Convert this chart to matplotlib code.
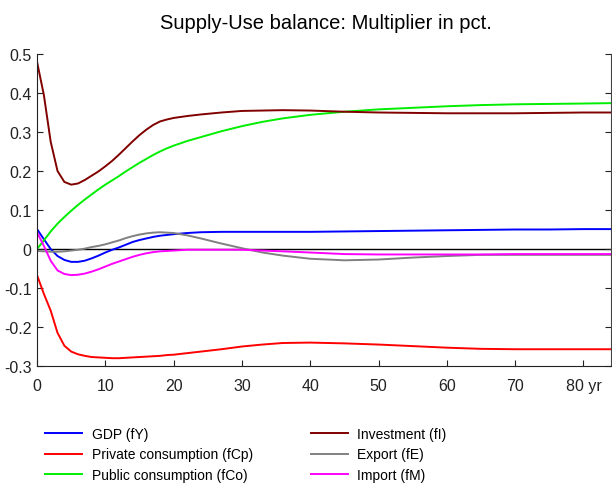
import matplotlib
matplotlib.use("Agg")
import matplotlib.pyplot as plt

plt.rcParams['font.family'] = ['Liberation Sans', 'DejaVu Sans']

# years after shock
years = [0, 1, 2, 3, 4, 5, 6, 7, 8, 9, 10, 11, 12, 13, 14, 15, 16, 17, 18, 19, 20,
         22, 24, 27, 30, 33, 36, 40, 45, 50, 55, 60, 65, 70, 75, 80, 84]

gdp = [0.051, 0.025, 0.0, -0.018, -0.028, -0.033, -0.033, -0.030, -0.024, -0.017,
       -0.009, -0.002, 0.004, 0.011, 0.018, 0.023, 0.027, 0.031, 0.034, 0.036, 0.038,
       0.041, 0.043, 0.044, 0.044, 0.044, 0.044, 0.044, 0.045, 0.046, 0.047, 0.048,
       0.049, 0.050, 0.050, 0.051, 0.051]
priv_cons = [-0.067, -0.115, -0.158, -0.215, -0.248, -0.263, -0.270, -0.274, -0.277,
             -0.278, -0.279, -0.280, -0.280, -0.279, -0.278, -0.277, -0.276, -0.275,
             -0.274, -0.272, -0.271, -0.267, -0.263, -0.257, -0.250, -0.245, -0.241,
             -0.240, -0.242, -0.245, -0.249, -0.253, -0.256, -0.257, -0.257, -0.257,
             -0.257]
pub_cons = [0.0, 0.022, 0.045, 0.065, 0.082, 0.098, 0.113, 0.127, 0.140, 0.153, 0.165,
            0.176, 0.187, 0.199, 0.210, 0.221, 0.231, 0.241, 0.250, 0.258, 0.265,
            0.277, 0.287, 0.302, 0.315, 0.326, 0.335, 0.344, 0.352, 0.358, 0.362,
            0.366, 0.369, 0.371, 0.372, 0.373, 0.374]
investment = [0.480, 0.395, 0.275, 0.200, 0.172, 0.165, 0.168, 0.177, 0.188, 0.199,
              0.212, 0.226, 0.242, 0.259, 0.276, 0.292, 0.306, 0.318, 0.327, 0.332,
              0.336, 0.341, 0.345, 0.350, 0.354, 0.355, 0.356, 0.355, 0.352, 0.350,
              0.349, 0.348, 0.348, 0.348, 0.349, 0.350, 0.350]
export = [-0.005, -0.006, -0.007, -0.007, -0.006, -0.004, -0.002, 0.001, 0.005, 0.008,
          0.012, 0.017, 0.022, 0.028, 0.033, 0.037, 0.040, 0.042, 0.043, 0.042, 0.041,
          0.035, 0.027, 0.014, 0.002, -0.009, -0.017, -0.025, -0.029, -0.027, -0.022,
          -0.018, -0.015, -0.015, -0.015, -0.015, -0.015]
imports = [0.043, 0.008, -0.030, -0.055, -0.064, -0.067, -0.066, -0.063, -0.058, -0.052,
           -0.045, -0.038, -0.032, -0.026, -0.020, -0.015, -0.011, -0.008, -0.006,
           -0.005, -0.004, -0.002, -0.002, -0.002, -0.002, -0.004, -0.006, -0.009,
           -0.013, -0.014, -0.014, -0.014, -0.014, -0.013, -0.013, -0.013, -0.013]

labels = ['GDP (fY)', 'Private consumption (fCp)', 'Public consumption (fCo)',
          'Investment (fI)', 'Export (fE)', 'Import (fM)']
colors = ['#0000ff', '#ff0000', '#00ee00', '#800000', '#808080', '#ff00ff']
series = [gdp, priv_cons, pub_cons, investment, export, imports]

x_ticks = [0, 10, 20, 30, 40, 50, 60, 70, 80]
x_labels = ['0', '10', '20', '30', '40', '50', '60', '70', '80 yr']
y_ticks = [-0.3, -0.2, -0.1, 0, 0.1, 0.2, 0.3, 0.4, 0.5]
y_labels = ['-0.3', '-0.2', '-0.1', '0', '0.1', '0.2', '0.3', '0.4', '0.5']

fig = plt.figure(figsize=(6.12, 4.85), dpi=100)
ax = fig.add_axes([0.0605, 0.2433, 0.9375, 0.6433])

ax.axhline(0, color='black', lw=1.0, zorder=1)
handles = []
for vals, col, lab in zip(series, colors, labels):
    h, = ax.plot(years, vals, color=col, lw=1.4, label=lab, zorder=2)
    handles.append(h)

ax.set_xlim(0, 84)
ax.set_ylim(-0.3, 0.5)
ax.set_xticks(x_ticks)
ax.set_xticklabels(x_labels)
ax.set_yticks(y_ticks)
ax.set_yticklabels(y_labels)
ax.tick_params(direction='in', length=4, labelsize=11.5, right=True, colors='#222222')
ax.tick_params(axis='x', pad=9)
ax.tick_params(axis='y', pad=4)
ax.spines['top'].set_visible(False)
for s in ['left', 'bottom']:
    ax.spines[s].set_color('#222222')
ax.spines['right'].set_color('#444444')

fig.suptitle('Supply-Use balance: Multiplier in pct.', x=0.533, y=0.972, fontsize=14.5)

fig.legend(handles=handles, labels=labels, ncol=2, loc='upper left',
           bbox_to_anchor=(0.0735, 0.118), frameon=False, fontsize=10,
           handlelength=2.7, handletextpad=0.65, columnspacing=4.2,
           labelspacing=0.48, borderpad=0, borderaxespad=0)

fig.savefig('out.png', dpi=100)
